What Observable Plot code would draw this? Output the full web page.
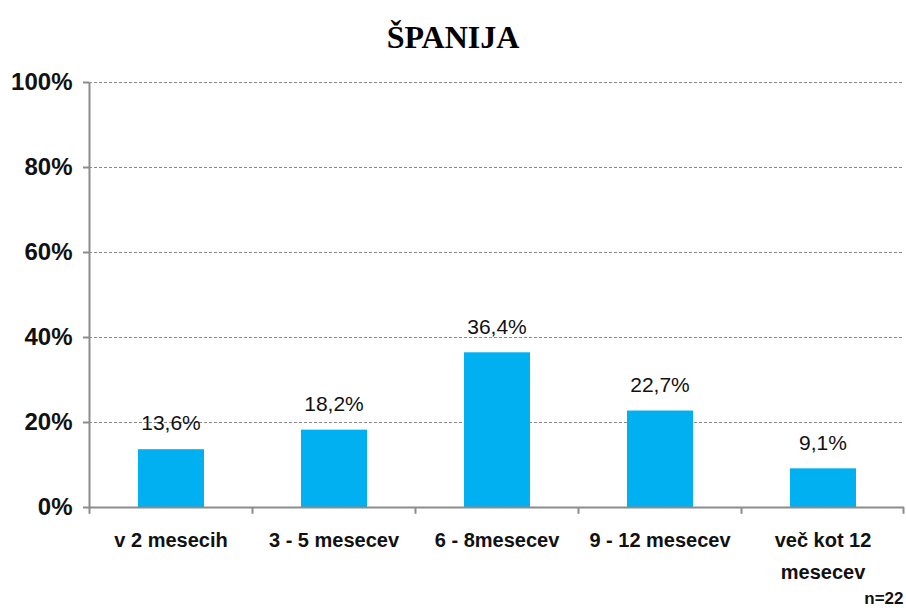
<!DOCTYPE html>
<html>
<head>
<meta charset="utf-8">
<script src="https://cdn.jsdelivr.net/npm/d3@7"></script>
<script src="https://cdn.jsdelivr.net/npm/@observablehq/plot@0.6"></script>
<style>
  html, body { margin: 0; padding: 0; background: #fff; }
  #title { height: 62px; width: 906px; text-align: center; font-family: "Liberation Serif", "Times New Roman", serif; font-weight: bold; font-size: 32px; line-height: 74px; color: #000; }
  #chart svg { display: block; }
</style>
</head>
<body>
<div id="title">ŠPANIJA</div>
<div id="chart"></div>
<script>
const categories = ["v 2 mesecih", "3 - 5 mesecev", "6 - 8mesecev", "9 - 12 mesecev", "več kot 12 mesecev"];
const tickLabels = ["v 2 mesecih", "3 - 5 mesecev", "6 - 8mesecev", "9 - 12 mesecev", "več kot 12\nmesecev"];
const values = [13.6, 18.2, 36.4, 22.7, 9.1];
const yTicks = [0, 20, 40, 60, 80, 100];
const sampleNote = "n=22";

const data = categories.map((c, i) => ({category: c, value: values[i]}));
const labelOf = new Map(categories.map((c, i) => [c, tickLabels[i]]));

const W = 906, H = 551;
const mL = 89, mR = 2, mT = 20, mB = 106;
const step = (W - mL - mR) / categories.length;
const axisColor = "#8c8c8c";

const chart = Plot.plot({
  width: W,
  height: H,
  marginLeft: mL,
  marginRight: mR,
  marginTop: mT,
  marginBottom: mB,
  style: {fontFamily: "'Liberation Sans', Arial, sans-serif", color: "#111", background: "#fff"},
  x: {domain: categories, padding: 0, label: null},
  y: {domain: [0, 100], label: null},
  marks: [
    Plot.gridY(yTicks, {stroke: "#8a8a8a", strokeOpacity: 1, strokeDasharray: "3,2", strokeWidth: 1}),
    Plot.barY(data, {x: "category", y: "value", fill: "#00B0F0", insetLeft: 49, insetRight: 48}),
    Plot.text(data, {x: "category", y: "value", text: d => d.value.toFixed(1).replace(".", ",") + "%", dy: -26, fontSize: 21, fill: "#111"}),
    Plot.axisY({ticks: yTicks, tickFormat: d => d + "%", tickSize: 6, tickPadding: 11, stroke: axisColor, strokeWidth: 2, fontSize: 24, fontWeight: "bold", fill: "#111", label: null}),
    Plot.axisX({tickSize: 0, tickPadding: 17, tickFormat: d => labelOf.get(d), fontSize: 20, fontWeight: "bold", fill: "#111", lineHeight: 1.6, label: null}),
    // axis lines
    Plot.ruleY([0], {stroke: axisColor, strokeWidth: 2}),
    Plot.ruleX([categories[0]], {dx: -step / 2, y1: 0, y2: 100, stroke: axisColor, strokeWidth: 2}),
    // x ticks at band boundaries
    Plot.ruleX(categories, {dx: -step / 2, y1: 0, y2: -1.6, stroke: axisColor, strokeWidth: 2}),
    Plot.ruleX([categories[categories.length - 1]], {dx: step / 2 - 1, y1: 0, y2: -1.6, stroke: axisColor, strokeWidth: 2}),
    Plot.text([sampleNote], {frameAnchor: "bottom-right", dy: 96, dx: -1, textAnchor: "end", fontSize: 17, fontWeight: "bold", fill: "#111"})
  ]
});
document.getElementById("chart").appendChild(chart);
</script>
</body>
</html>
